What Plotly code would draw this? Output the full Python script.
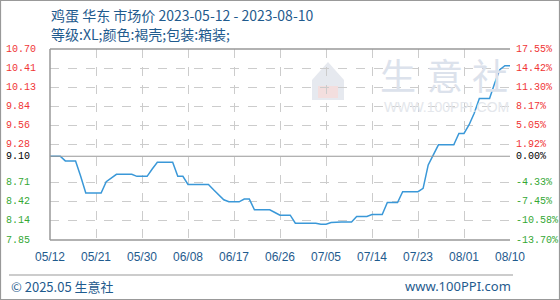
import plotly.graph_objects as go
import pandas as pd

start_date = "2023-05-12"
prices = [
    9.10, 9.10, 9.10, 9.03, 9.03, 9.03, 8.80, 8.55, 8.55, 8.55,
    8.55, 8.72, 8.78, 8.83, 8.83, 8.83, 8.83, 8.80, 8.80, 8.80,
    8.91, 9.01, 9.01, 9.01, 9.01, 8.80, 8.80, 8.68, 8.68, 8.68,
    8.68, 8.68, 8.60, 8.52, 8.45, 8.42, 8.42, 8.42, 8.46, 8.46,
    8.30, 8.30, 8.30, 8.30, 8.26, 8.22, 8.22, 8.22, 8.10, 8.10,
    8.10, 8.10, 8.10, 8.085, 8.085, 8.11, 8.12, 8.12, 8.12, 8.12,
    8.20, 8.20, 8.20, 8.23, 8.23, 8.23, 8.41, 8.41, 8.41, 8.57,
    8.57, 8.57, 8.57, 8.62, 8.97, 9.12, 9.27, 9.27, 9.27, 9.27,
    9.44, 9.44, 9.57, 9.74, 9.96, 9.96, 9.96, 10.19, 10.39, 10.45,
    10.45,
]
dates = pd.date_range(start_date, periods=len(prices), freq="D")

base_price = 9.10
y_tick_vals = [10.70, 10.415, 10.13, 9.845, 9.56, 9.275, 9.10, 8.705, 8.42, 8.135, 7.85]
y_left_labels = ["10.70", "10.41", "10.13", "9.84", "9.56", "9.28", "9.10", "8.71", "8.42", "8.14", "7.85"]
y_right_labels = ["17.55%", "14.42%", "11.30%", "8.17%", "5.05%", "1.92%", "0.00%",
                  "-4.33%", "-7.45%", "-10.58%", "-13.70%"]
x_tick_dates = ["2023-05-12", "2023-05-21", "2023-05-30", "2023-06-08", "2023-06-17", "2023-06-26",
                "2023-07-05", "2023-07-14", "2023-07-23", "2023-08-01", "2023-08-10"]
x_tick_labels = ["05/12", "05/21", "05/30", "06/08", "06/17", "06/26",
                 "07/05", "07/14", "07/23", "08/01", "08/10"]

title_line1 = "鸡蛋 华东 市场价 2023-05-12 - 2023-08-10"
title_line2 = "等级:XL;颜色:褐壳;包装:箱装;"
footer_left = "© 2025.05 生意社"
footer_right = "www.100PPI.com"

W, H = 560, 300
L, R, T, B = 50, 50, 49, 60
PW, PH = W - L - R, H - T - B


def px(p):
    return (p - L) / PW


def py(p):
    return (H - B - p) / PH


BLUE = "#1f5b8e"
RED = "#f03535"
GREEN = "#34a834"
GRID = "#cccccc"
BORDER = "#999999"

fig = go.Figure()
fig.add_trace(go.Scatter(x=dates, y=prices, mode="lines",
                         line=dict(color="#3a98d8", width=1.5), hoverinfo="skip"))

annotations = []
for v, lt, rt in zip(y_tick_vals, y_left_labels, y_right_labels):
    col = RED if v > base_price else (GREEN if v < base_price else "#000000")
    annotations.append(dict(x=px(4), xref="paper", y=v, yref="y", text=lt, showarrow=False,
                            xanchor="left", yanchor="middle",
                            font=dict(family="Liberation Mono", size=10, color=col)))
    annotations.append(dict(x=px(514), xref="paper", y=v, yref="y", text=rt, showarrow=False,
                            xanchor="left", yanchor="middle",
                            font=dict(family="Liberation Mono", size=10, color=col)))

annotations += [
    dict(x=px(49), y=py(15), xref="paper", yref="paper", text=title_line1, showarrow=False,
         xanchor="left", yanchor="middle", font=dict(family="Noto Sans CJK SC", size=14, color=BLUE)),
    dict(x=px(49), y=py(34), xref="paper", yref="paper", text=title_line2, showarrow=False,
         xanchor="left", yanchor="middle", font=dict(family="Noto Sans CJK SC", size=14, color=BLUE)),
    dict(x=px(9), y=py(286), xref="paper", yref="paper", text=footer_left, showarrow=False,
         xanchor="left", yanchor="middle", font=dict(family="Noto Sans CJK SC", size=13, color=BLUE)),
    dict(x=px(513), y=py(286), xref="paper", yref="paper", text=footer_right, showarrow=False,
         xanchor="right", yanchor="middle", font=dict(family="Noto Sans", size=13, color=BLUE)),
]
# watermark
for ch, cx in zip(["生", "意", "社"], [398, 445, 490]):
    annotations.append(dict(x=px(cx), y=py(74), xref="paper", yref="paper", text=ch, showarrow=False,
                            xanchor="center", yanchor="middle",
                            font=dict(family="Noto Sans CJK SC", size=36, color="#dce2ec")))
annotations.append(dict(x=px(446), y=py(107), xref="paper", yref="paper", text="WWW.100PPI.COM",
                        showarrow=False, xanchor="center", yanchor="middle",
                        font=dict(family="Liberation Sans", size=14, color="#e4e7ec")))

shapes = [
    # logo approximation
    dict(type="path", xref="paper", yref="paper",
         path=f"M {px(312)},{py(80)} L {px(328)},{py(62)} L {px(344)},{py(80)} L {px(344)},{py(100)} L {px(312)},{py(100)} Z",
         fillcolor="#e6e9ef", line=dict(width=0), layer="below"),
    dict(type="rect", xref="paper", yref="paper", x0=px(318), x1=px(338), y0=py(98), y1=py(86),
         fillcolor="#f3dede", line=dict(width=0), layer="below"),
    # baseline
    dict(type="line", xref="paper", yref="y", x0=0, x1=1, y0=base_price, y1=base_price,
         line=dict(color=BORDER, width=1.2)),
    # borders
    dict(type="line", xref="paper", yref="paper", x0=0, x1=0, y0=0, y1=1, line=dict(color=BORDER, width=1.5)),
    dict(type="line", xref="paper", yref="paper", x0=0, x1=1, y0=1, y1=1, line=dict(color=BORDER, width=1.5)),
    dict(type="line", xref="paper", yref="paper", x0=0, x1=1, y0=0, y1=0, line=dict(color=BORDER, width=1.5)),
    # footer line
    dict(type="line", xref="paper", yref="paper", x0=px(9), x1=px(513), y0=py(275), y1=py(275),
         line=dict(color=BORDER, width=1.2)),
    # outer frame
    dict(type="rect", xref="paper", yref="paper", x0=px(0.5), x1=px(559.5), y0=py(0.5), y1=py(299.5),
         line=dict(color=BORDER, width=1.2)),
]

fig.update_layout(
    width=W, height=H, margin=dict(l=L, r=R, t=T, b=B),
    paper_bgcolor="white", plot_bgcolor="white", showlegend=False,
    annotations=annotations, shapes=shapes,
    xaxis=dict(type="date", range=[x_tick_dates[0], x_tick_dates[-1]], tickvals=x_tick_dates,
               ticktext=x_tick_labels, showgrid=True, gridcolor=GRID, griddash="dash", gridwidth=1,
               zeroline=False, showline=False, ticks="", ticklabelstandoff=8,
               tickfont=dict(family="Liberation Sans", size=12, color=BLUE)),
    yaxis=dict(range=[7.85, 10.70], tickvals=[v for v in y_tick_vals if v != base_price],
               showticklabels=False, showgrid=True, gridcolor=GRID, griddash="dash", gridwidth=1,
               zeroline=False, showline=False, ticks=""),
)

fig.write_html("out.html")
